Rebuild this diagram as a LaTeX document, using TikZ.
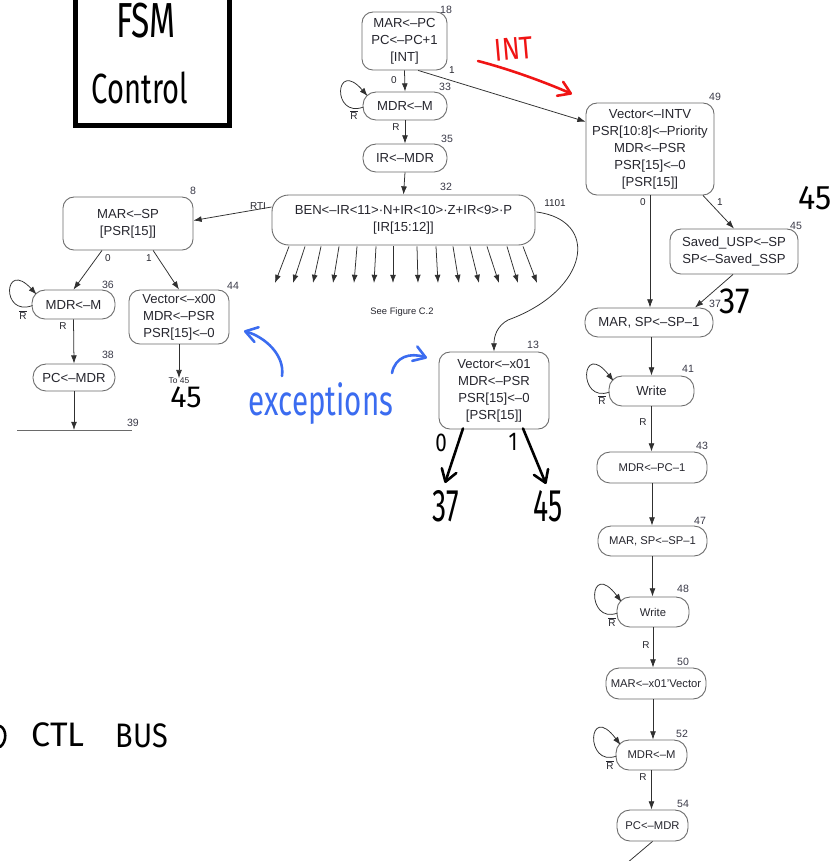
\documentclass[tikz,border=0pt]{standalone}
\usepackage{graphicx}
\usepackage{fontspec}
\setmainfont{Liberation Sans}
\newfontfamily\handfont{Fira Sans}
\usetikzlibrary{arrows.meta}

\definecolor{edgegray}{HTML}{6A6A6A}
\definecolor{inktext}{HTML}{26262E}
\definecolor{numcol}{HTML}{3A3A48}
\definecolor{flowcol}{HTML}{303030}
\definecolor{inkred}{HTML}{F01414}
\definecolor{inkblue}{HTML}{3B6CF0}

\newcommand\upfont{\fontsize{11.2}{14.5}\selectfont}
\newcommand\lowfont{\fontsize{9.6}{12}\selectfont}
\newcommand\hw[3]{{\handfont\fontsize{#1}{#1}\selectfont\scalebox{#2}[1]{#3}}}
\newcommand\rbar{$\overline{\mbox{R}}$}

% self-loop on the left end of a pill-shaped state
\newcommand\stateloop[2]{%
  \draw[flow] ([shift={(1,1)}]#1.west) .. controls +(-32,12) and +(-33,#2) .. ([shift={(5,-10)}]#1.west);}

\begin{document}
\begin{tikzpicture}[x=0.03cm, y=-0.03cm,
  state/.style={draw=edgegray, line width=0.75pt, text=inktext, align=center,
                inner sep=0pt, font=\upfont},
  box/.style={state, rounded corners=0.33cm},
  bigbox/.style={state, rounded corners=0.5cm},
  pill/.style={state, rounded corners=0.39cm},
  lowpill/.style={pill, font=\lowfont},
  num/.style={font=\fontsize{9}{10}\selectfont, text=numcol, inner sep=0pt},
  cond/.style={font=\fontsize{8.5}{9}\selectfont, text=inktext, inner sep=0pt},
  flow/.style={draw=flowcol, line width=0.65pt, -{Latex[length=7pt,width=5pt]}},
  hand/.style={inner sep=0pt},
  inkline/.style={line width=2.2pt, line cap=round, line join=round},
  inkarrow/.style={inkline, -{Straight Barb[length=10pt 0, width=13pt 0, round]}}
]
\fill[white] (0,0) rectangle (833,861);
\useasboundingbox (0,0) rectangle (833,861);

% ---------- FSM control box ----------
\node[draw, line width=4.8pt, minimum width=4.62cm, minimum height=4.2cm] (fsm) at (152.5,55.5) {};
\node[hand] (fsmA) at (146,21) {\hw{42}{0.68}{FSM}};
\node[hand] (fsmB) at (140,88) {\hw{36}{0.69}{Control}};

% ---------- states ----------
\node[box, minimum width=2.55cm, minimum height=1.74cm] (s18) at (404.5,41) {MAR<–PC\\PC<–PC+1\\{}[INT]};
\node[pill, minimum width=2.52cm, minimum height=0.84cm] (s33) at (405,106) {MDR<–M};
\node[pill, minimum width=2.52cm, minimum height=0.84cm] (s35) at (405,158) {IR<–MDR};
\node[bigbox, minimum width=7.89cm, minimum height=1.5cm] (s32) at (403.5,220)
  {BEN<–IR<11>·N+IR<10>·Z+IR<9>·P\\{}[IR[15:12]]};
\node[box, minimum width=3.9cm, minimum height=1.59cm] (s8) at (128,223.5) {MAR<–SP\\{}[PSR[15]]};
\node[pill, minimum width=2.49cm, minimum height=0.87cm] (s36) at (73.5,304.5) {MDR<–M};
\node[pill, minimum width=2.46cm, minimum height=0.81cm] (s38) at (74,377.5) {PC<–MDR};
\node[box, minimum width=3.0cm, minimum height=1.62cm] (s44) at (179,317) {Vector<–x00\\MDR<–PSR\\PSR[15]<–0};
\node[box, minimum width=3.3cm, minimum height=2.31cm] (s13) at (494,390.5)
  {Vector<–x01\\MDR<–PSR\\PSR[15]<–0\\{}[PSR[15]]};
\node[box, minimum width=3.84cm, minimum height=2.76cm] (s49) at (650,149)
  {Vector<–INTV\\PSR[10:8]<–Priority\\MDR<–PSR\\PSR[15]<–0\\{}[PSR[15]]};
\node[box, minimum width=3.84cm, minimum height=1.35cm] (s45) at (734,251.5) {Saved\_USP<–SP\\SP<–Saved\_SSP};
\node[pill, minimum width=3.84cm, minimum height=0.87cm] (s37) at (649,322.5) {MAR, SP<–SP–1};
\node[pill, minimum width=2.55cm, minimum height=0.9cm] (s41) at (651.5,391) {Write};
\node[lowpill, minimum width=3.3cm, minimum height=0.93cm] (s43) at (652,467.5) {MDR<–PC–1};
\node[lowpill, minimum width=3.27cm, minimum height=0.9cm] (s47) at (652.5,541) {MAR, SP<–SP–1};
\node[lowpill, minimum width=2.16cm, minimum height=0.9cm] (s48) at (653,612) {Write};
\node[lowpill, minimum width=3.0cm, minimum height=0.93cm] (s50) at (656,683.5) {MAR<–x01’Vector};
\node[lowpill, minimum width=2.13cm, minimum height=0.9cm] (s52) at (651.5,755) {MDR<–M};
\node[lowpill, minimum width=2.13cm, minimum height=0.93cm] (s54) at (652.5,825.5) {PC<–MDR};

% top edge of state 39
\draw[draw=edgegray, line width=0.75pt] (17,430) -- (132,430);
\coordinate (s39) at (74,430);

% ---------- state numbers ----------
\node[num] at (446,10) {18};
\node[num] at (445,87) {33};
\node[num] at (447,139) {35};
\node[num] at (446,187) {32};
\node[num] at (193,191) {8};
\node[num] at (108,285) {36};
\node[num] at (108,355) {38};
\node[num] at (133,423) {39};
\node[num] at (233,286) {44};
\node[num] at (533,345) {13};
\node[num] at (715,97) {49};
\node[num] at (796,226) {45};
\node[num] at (715,304) {37};
\node[num] at (688,369) {41};
\node[num] at (702,446) {43};
\node[num] at (700,521) {47};
\node[num] at (683,589) {48};
\node[num] at (683,662) {50};
\node[num] at (682,734) {52};
\node[num] at (683,804) {54};

% ---------- transitions ----------
\draw[flow] (s18.south) -- (s33.north);
\node[cond] at (394,80) {0};
\draw[flow] (s18.-65) -- (s49.157);
\node[cond] at (452,70) {1};

\stateloop{s33}{-38}
\node[cond] at (354,115) {\rbar};
\draw[flow] (s33.south) -- (s35.north);
\node[cond] at (396,127) {R};
\draw[flow] (s35.south) -- (s32.north);

% RTI branch
\draw[flow] ([shift={(0,-13)}]s32.west) -- ([shift={(0,-3)}]s8.east);
\node[cond] at (258,206) {RTI};

% opcode fan-out
\foreach \a/\b [count=\i] in {289/275, 305/293, 321/313, 339/333, 357/354, 376/374, 393/393,
                              417/418, 436/438, 453/459, 470/479, 487/499, 507/518, 523/537} {
  \coordinate (fan\i) at (\b,283);
  \draw[flow] ([shift={({\a-403.5},1)}]s32.south) -- (fan\i);
}
\node[font=\fontsize{8}{9}\selectfont, text=inktext, inner sep=0pt] (seefig) at (402,312) {See Figure C.2};

% 1101 branch
\coordinate (bend) at (508,320);
\draw[flow] ([shift={(1,-8)}]s32.east) .. controls (600,220) and (590,290) .. (bend)
  .. controls (497,326) and (494,336) .. (s13.north);
\node[cond] at (555,203) {1101};

% RTI path
\draw[flow] (s8.-134.5) -- (s36.north);
\node[cond] at (108,258) {0};
\draw[flow] (s8.-47.8) -- (s44.north);
\node[cond] at (149,258) {1};
\stateloop{s36}{-36}
\node[cond] at (23,315) {\rbar};
\draw[flow] (s36.south) -- (s38.north);
\node[cond] at (63,326) {R};
\draw[flow] (s38.south) -- (s39);
\node[font=\fontsize{7.2}{8}\selectfont, text=inktext, inner sep=0pt, anchor=north] (to45) at (179,377) {To 45};
\draw[flow] (s44.south) -- ([yshift=-1pt]to45.north);

% interrupt sequence
\draw[flow] (s49.south) -- (s49.south |- s37.north);
\node[cond] at (643,202) {0};
\draw[flow] ([shift={(53,0)}]s49.south) -- (s45.north);
\node[cond] at (720,202) {1};
\draw[flow] ([shift={(-1,0)}]s45.south) -- ([shift={(46,0)}]s37.north);
\draw[flow] (s41.north |- s37.south) -- (s41.north);
\stateloop{s41}{-42}
\node[cond] at (602,400) {\rbar};
\draw[flow] (s41.south) -- (s41.south |- s43.north);
\node[cond] at (643,422) {R};
\draw[flow] (s43.south) -- (s43.south |- s47.north);
\draw[flow] (s47.south) -- (s47.south |- s48.north);
\stateloop{s48}{-44}
\node[cond] at (612,622) {\rbar};
\draw[flow] (s48.south) -- (s48.south |- s50.north);
\node[cond] at (646,645) {R};
\draw[flow] (s48.south |- s50.south) -- (s48.south |- s52.north);
\stateloop{s52}{-44}
\node[cond] at (610,765) {\rbar};
\draw[flow] (s52.south) -- (s52.south |- s54.north);
\node[cond] at (643,777) {R};
\coordinate (s54out) at (627,863);
\draw[draw=flowcol, line width=0.65pt] (s54.south) -- (s54out);

% ---------- handwritten notes ----------
% INT arrow (red)
\node[hand, text=inkred, rotate=5] (intlbl) at (514,49) {\hw{27}{0.82}{INT}};
\coordinate (intA) at (478,61);
\coordinate (intB) at (572,94);
\draw[inkred, inkarrow] (intA) .. controls (505,68) and (540,80) .. (intB);

% exceptions (blue)
\node[hand, text=inkblue] (exc) at (321,404) {\hw{36}{0.7}{exceptions}};
\coordinate (exA1) at (282,376);
\coordinate (exA2) at (244,331);
\coordinate (exB1) at (392,373);
\coordinate (exB2) at (427,358);
\draw[inkblue, inkarrow] (exA1) .. controls (285,355) and (265,337) .. (exA2);
\draw[inkblue, inkarrow] (exB1) .. controls (395,357) and (410,352) .. (exB2);

% branch targets of state 13 (black)
\coordinate (h0) at (445,483);
\coordinate (h1) at (546,484);
\draw[black, inkarrow] ([shift={(-31,-1)}]s13.south) -- (h0);
\draw[black, inkarrow] ([shift={(29,-1)}]s13.south) -- (h1);
\node[hand] at (441,443) {\hw{22}{0.8}{0}};
\node[hand] at (513,442) {\hw{22}{0.8}{1}};
\node[hand] at (446,506) {\hw{39}{0.62}{37}};
\node[hand] at (548,506) {\hw{39}{0.62}{45}};

% next-state notes
\node[hand] at (186,397) {\hw{26}{1.0}{45}};
\node[hand] at (815,198) {\hw{29}{0.95}{45}};
\node[hand] at (735,301) {\hw{31}{0.9}{37}};

% control bus note
\draw[black, inkline] (0,726) .. controls (7,729) and (7,742) .. (0,747);
\node[hand] at (58,735) {\hw{29}{1.0}{CTL}};
\node[hand] at (142,736) {\hw{29}{0.85}{BUS}};
\end{tikzpicture}
\end{document}
